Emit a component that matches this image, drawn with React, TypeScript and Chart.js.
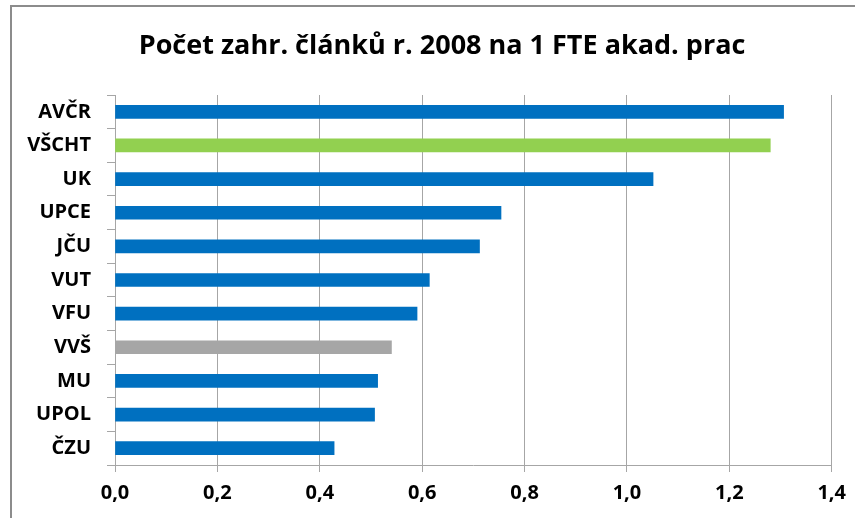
import React, { useEffect, useRef } from "react";
import { Chart, registerables } from "chart.js";

Chart.register(...registerables);

const titleText = "Počet zahr. článků r. 2008 na 1 FTE akad. prac";
const categories = ["AVČR", "VŠCHT", "UK", "UPCE", "JČU", "VUT", "VFU", "VVŠ", "MU", "UPOL", "ČZU"];
const values = [1.306, 1.28, 1.051, 0.754, 0.712, 0.614, 0.59, 0.54, 0.513, 0.507, 0.428];
const barColors = ["#0070C0", "#92D050", "#0070C0", "#0070C0", "#0070C0", "#0070C0", "#0070C0", "#A6A6A6", "#0070C0", "#0070C0", "#0070C0"];
const xMin = 0;
const xMax = 1.4;
const xStep = 0.2;

const FONT = "'Open Sans', Lato, sans-serif";

const titlePlugin = {
  id: "fixedTitle",
  afterDraw(chart: any) {
    const ctx = chart.ctx;
    ctx.save();
    ctx.font = `bold 27px ${FONT}`;
    ctx.fillStyle = "#000000";
    ctx.textAlign = "center";
    ctx.textBaseline = "middle";
    ctx.fillText(titleText, 442, 46);
    ctx.restore();
  },
};

export default function App() {
  const ref = useRef<HTMLCanvasElement | null>(null);

  useEffect(() => {
    if (!ref.current) return;
    const chart = new Chart(ref.current, {
      type: "bar",
      data: {
        labels: categories,
        datasets: [
          {
            data: values,
            backgroundColor: barColors,
            borderWidth: 0,
            barThickness: 13,
          },
        ],
      },
      plugins: [titlePlugin],
      options: {
        indexAxis: "y",
        animation: false,
        responsive: false,
        maintainAspectRatio: false,
        layout: { padding: { left: 0, right: 23, top: 95, bottom: 0 } },
        plugins: {
          legend: { display: false },
          tooltip: { enabled: false },
          title: { display: false },
        },
        scales: {
          x: {
            min: xMin,
            max: xMax,
            ticks: {
              stepSize: xStep,
              color: "#000000",
              font: { family: FONT, size: 20, weight: "bold" },
              padding: 9,
              callback: (v: any) => Number(v).toFixed(1).replace(".", ","),
            },
            grid: { color: "#A6A6A6", lineWidth: 1, tickLength: 7 },
            border: { color: "#A6A6A6", width: 1 },
            afterFit: (s: any) => {
              s.height = 53;
            },
          },
          y: {
            ticks: {
              color: "#000000",
              font: { family: FONT, size: 20, weight: "bold" },
              padding: 16,
            },
            grid: { offset: true, drawOnChartArea: false, color: "#A6A6A6", tickLength: 8 },
            border: { color: "#A6A6A6", width: 1 },
            afterFit: (s: any) => {
              s.width = 115;
            },
          },
        },
      },
    });
    return () => chart.destroy();
  }, []);

  return (
    <div style={{ position: "fixed", left: 0, top: 0, width: 855, height: 518, overflow: "hidden", background: "#ffffff" }}>
      <div
        style={{
          position: "absolute",
          left: 10,
          top: 5,
          width: 900,
          height: 600,
          border: "2px solid #8C8C8C",
          boxSizing: "border-box",
        }}
      />
      <canvas ref={ref} width={855} height={518} style={{ position: "absolute", left: 0, top: 0 }} />
    </div>
  );
}
